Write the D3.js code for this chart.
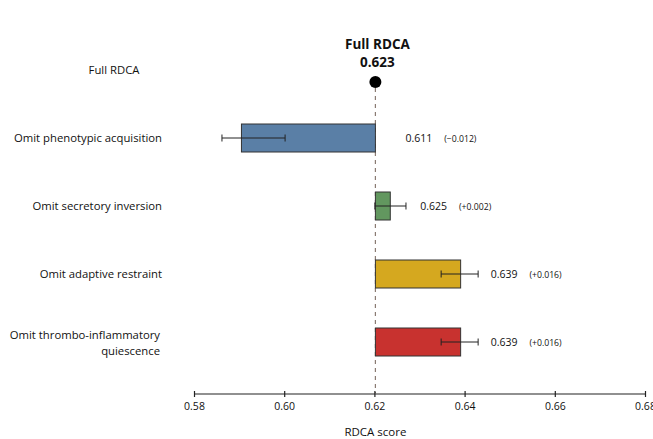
<!DOCTYPE html>
<html><head><meta charset="utf-8">
<script src="https://cdn.jsdelivr.net/npm/d3@7"></script>
<style>body{margin:0;background:#fff}svg{display:block}text{font-family:"Open Sans","Noto Sans",sans-serif;fill:#111}</style>
</head><body><svg id="c" width="653" height="439"></svg>
<script>
const fullLabel = "Full RDCA";
const fullScore = 0.623;
const categories = ["Omit phenotypic acquisition","Omit secretory inversion","Omit adaptive restraint","Omit thrombo-inflammatory quiescence"];
const scores = [0.611, 0.625, 0.639, 0.639];
const deltas = ["(\u22120.012)","(+0.002)","(+0.016)","(+0.016)"];
const barEnds = [0.5903, 0.6233, 0.6389, 0.6389];
const errLow = [0.5862, 0.6201, 0.6348, 0.6348];
const errHigh = [0.6002, 0.6270, 0.6430, 0.6430];
const baseline = 0.62;
const colors = ["#5a7fa6","#62975f","#d5a81f","#c8322f"];
const xTicks = [0.58,0.60,0.62,0.64,0.66,0.68];

const svg = d3.select("#c");
const x = d3.scaleLinear().domain([0.58,0.68]).range([194,645]);
const y = d3.scalePoint().domain([fullLabel, ...categories]).range([70,342]);
const barH = 28;

// dashed reference line
svg.append("line").attr("x1",x(baseline)+1).attr("x2",x(baseline)+1)
  .attr("y1",88).attr("y2",393).attr("stroke","#8a7b73").attr("stroke-width",1.2)
  .attr("stroke-dasharray","4,4");

// bars
const rows = categories.map((c,i)=>({c,i}));
svg.selectAll("rect.bar").data(rows).join("rect")
  .attr("x",d=>Math.min(x(baseline),x(barEnds[d.i]))+1)
  .attr("width",d=>Math.abs(x(barEnds[d.i])-x(baseline)))
  .attr("y",d=>y(d.c)-barH/2).attr("height",barH)
  .attr("fill",d=>colors[d.i]).attr("stroke","#333").attr("stroke-width",1);

// error bars
const eg = svg.selectAll("g.err").data(rows).join("g");
eg.append("line").attr("x1",d=>x(errLow[d.i])).attr("x2",d=>x(errHigh[d.i]))
  .attr("y1",d=>y(d.c)).attr("y2",d=>y(d.c)).attr("stroke","#222").attr("stroke-width",1);
eg.append("line").attr("x1",d=>x(errLow[d.i])).attr("x2",d=>x(errLow[d.i]))
  .attr("y1",d=>y(d.c)-3.5).attr("y2",d=>y(d.c)+3.5).attr("stroke","#222").attr("stroke-width",1);
eg.append("line").attr("x1",d=>x(errHigh[d.i])).attr("x2",d=>x(errHigh[d.i]))
  .attr("y1",d=>y(d.c)-3.5).attr("y2",d=>y(d.c)+3.5).attr("stroke","#222").attr("stroke-width",1);

// value labels
svg.selectAll("text.val").data(rows).join("text")
  .attr("x",d=>Math.max(x(baseline),x(barEnds[d.i]))+31)
  .attr("y",d=>y(d.c)+4).attr("font-size",10.5).text(d=>scores[d.i].toFixed(3))
  .each(function(d){
    const w = this.getComputedTextLength();
    svg.append("text").attr("x",+this.getAttribute("x")+w+12).attr("y",y(d.c)+3.5)
      .attr("font-size",8.7).text(deltas[d.i]);
  });

// category labels
svg.append("text").attr("x",114).attr("y",y(fullLabel)+4).attr("text-anchor","middle")
  .attr("font-size",11.3).text(fullLabel);
categories.forEach(c=>{
  const words = c.split(" ");
  if (c.length > 30) {
    const t = svg.append("text").attr("text-anchor","end").attr("font-size",11.3);
    t.append("tspan").attr("x",160).attr("y",y(c)-3).text(words.slice(0,2).join(" "));
    t.append("tspan").attr("x",160).attr("y",y(c)+13).text(words.slice(2).join(" "));
  } else {
    svg.append("text").attr("x",162).attr("y",y(c)+4).attr("text-anchor","end")
      .attr("font-size",11.3).text(c);
  }
});

// full RDCA marker
svg.append("circle").attr("cx",x(baseline)+1).attr("cy",82).attr("r",6).attr("fill","#000");
svg.append("text").attr("x",x(baseline)+3).attr("y",49).attr("text-anchor","middle")
  .attr("font-size",13.5).attr("font-weight","bold").text(fullLabel);
svg.append("text").attr("x",x(baseline)+3).attr("y",67).attr("text-anchor","middle")
  .attr("font-size",13.5).attr("font-weight","bold").text(fullScore.toFixed(3));

// axis
const axis = svg.append("g").attr("transform","translate(0,394)")
  .call(d3.axisBottom(x).tickValues(xTicks).tickFormat(d3.format(".2f")).tickSize(3).tickPadding(6));
axis.select(".domain").attr("stroke","#222").attr("stroke-width",1.2).attr("d",`M${x(0.58)},0H${x(0.68)}`);
axis.selectAll(".tick line").attr("y1",-3).attr("y2",3).attr("stroke","#222").attr("stroke-width",1.2);
axis.selectAll(".tick text").attr("font-size",10.5).attr("font-family","'Open Sans',sans-serif").attr("fill","#111");
svg.append("text").attr("x",x(0.62)+1).attr("y",436).attr("text-anchor","middle")
  .attr("font-size",11.5).text("RDCA score");
</script></body></html>
